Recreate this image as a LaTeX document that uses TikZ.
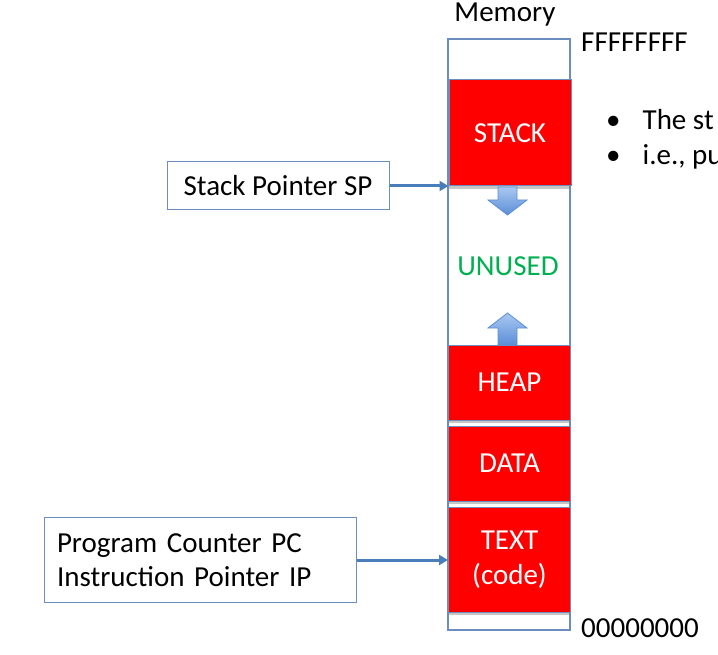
\documentclass[tikz,border=0pt]{standalone}
\usepackage{fontspec}
\setmainfont{Carlito}
\usepackage{xcolor}
\usepackage{tikz}
\usetikzlibrary{arrows.meta,positioning,shadows}

\definecolor{memline}{HTML}{6C8EBF}
\definecolor{ptrblue}{HTML}{4A7EBB}
\definecolor{unusedgreen}{HTML}{00B050}
\definecolor{growlight}{HTML}{A9C8F2}
\definecolor{growdark}{HTML}{5B8ED6}

\tikzset{
  seg/.style={draw=memline, fill=red, text=white, line width=1pt,
    minimum width=122, minimum height=75, inner sep=0pt, align=center,
    drop shadow={shadow xshift=0pt, shadow yshift=-3pt, opacity=.45}},
  ptrbox/.style={draw=memline, line width=1pt, inner sep=0pt},
  ptrarrow/.style={draw=ptrblue, line width=3pt, -{Triangle[length=9,width=10]}},
  growarrow/.style={draw=growdark, line width=0.8pt, top color=growlight, bottom color=growdark},
  lbl/.style={inner sep=0pt, anchor=base}
}

\begin{document}
\begin{tikzpicture}[x=1pt, y=-1pt, font=\fontsize{29}{34.5}\selectfont]
\useasboundingbox (0,0) rectangle (718,655);

% memory column
\draw[memline, line width=1.2pt] (448,39) rectangle (570,630);
\node[lbl] (memtitle) at (505,22) {Memory};
\node[lbl, anchor=base west] (top) at (581,52) {FFFFFFFF};
\node[lbl, anchor=base west] (bottom) at (581,637) {00000000};

% segments
\node[seg, minimum height=106] (stack) at (510,133) {STACK};
\node[seg] (heap) at (509.5,382.5) {HEAP};
\node[seg] (data) at (509.5,463.5) {DATA};
\node[seg, minimum height=105] (text) at (509.5,559.5) {TEXT\\(code)};
\node[lbl, text=unusedgreen] (unused) at (508,276) {UNUSED};

% growth arrows
\draw[growarrow] (498,187) -- (517,187) -- (517,200) -- (527,200) -- (507.5,215)
  -- (488,200) -- (498,200) -- cycle;
\draw[growarrow] (498,345) -- (517,345) -- (517,328) -- (527,328) -- (507.5,313)
  -- (488,328) -- (498,328) -- cycle;

% pointers
\node[ptrbox, minimum width=222, minimum height=48] (sp) at (278,186) {Stack Pointer SP};
\node[ptrbox, align=left, text width=286, inner xsep=13, minimum height=85] (pc) at (200,560)
  {Program Counter PC\\Instruction Pointer IP};
\draw[ptrarrow] (sp.east) -- (sp.east -| stack.west);
\draw[ptrarrow] (pc.east) -- (pc.east -| text.west);

% bullets
\node[lbl, anchor=base west] (b1) at (606,130) {\textbullet\hspace{22pt}The st};
\node[lbl, anchor=base west] (b2) at (606,165) {\textbullet\hspace{22pt}i.e., pu};
\end{tikzpicture}
\end{document}
